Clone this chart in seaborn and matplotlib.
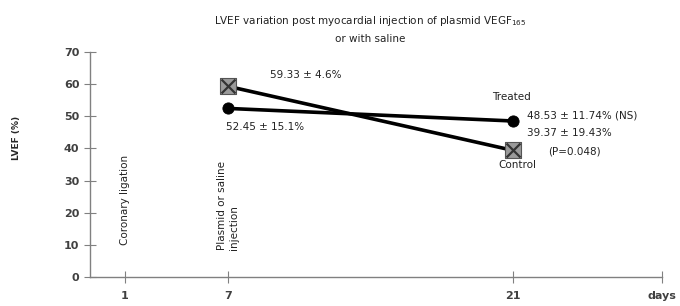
import matplotlib
matplotlib.use('Agg')
import matplotlib.pyplot as plt
import numpy as np
import pandas as pd
import seaborn as sns

days = [7, 21]
control = [59.33, 39.37]
treated = [52.45, 48.53]
xticks = [1, 7, 21]
yticks = [0, 10, 20, 30, 40, 50, 60, 70]

sns.set_style('white')
plt.rcParams['font.family'] = ['DejaVu Sans']

df = pd.DataFrame({'day': days * 2,
                   'lvef': control + treated,
                   'group': ['Control'] * 2 + ['Treated'] * 2})

fig = plt.figure(figsize=(6.8, 3.06), dpi=100)
ax = fig.add_axes([0.132, 0.095, 0.842, 0.735])

# uneven day axis as in the original (piecewise linear scale)
kd = [-20, 1, 7, 21, 60]
kp = [125 - 21 * 17.17, 125, 228, 513, 513 + 39 * 20.36]
ax.set_xscale('function', functions=(lambda x: np.interp(x, kd, kp),
                                     lambda p: np.interp(p, kp, kd)))

sns.lineplot(data=df, x='day', y='lvef', units='group', estimator=None,
             color='black', linewidth=2.6, ax=ax, legend=False)
sub_c = df[df.group == 'Control']
sub_t = df[df.group == 'Treated']
sns.scatterplot(data=sub_c, x='day', y='lvef', marker='s', s=140, color='#9a9a9a',
                edgecolor='#555555', linewidth=0.8, ax=ax, zorder=3, legend=False)
sns.scatterplot(data=sub_c, x='day', y='lvef', marker='x', s=100, color='#333333',
                linewidth=1.6, ax=ax, zorder=4, legend=False)
sns.scatterplot(data=sub_t, x='day', y='lvef', marker='o', s=65, color='black',
                edgecolor='black', ax=ax, zorder=3, legend=False)

xmax = 28.32
ax.set_xlim(-1.04, xmax)
ax.set_ylim(0, 70)
ax.set_xticks(xticks + [xmax])
ax.set_xticklabels([str(t) for t in xticks] + ['days'])
ax.set_yticks(yticks)
ax.tick_params(axis='both', direction='inout', length=8, width=0.8, color='#808080',
               labelsize=8, labelcolor='#404040', left=True, bottom=True)
ax.tick_params(axis='x', pad=6)
for lbl in ax.get_xticklabels() + ax.get_yticklabels():
    lbl.set_fontweight('bold')
for s in ['top', 'right']:
    ax.spines[s].set_visible(False)
for s in ['left', 'bottom']:
    ax.spines[s].set_color('#808080')
    ax.spines[s].set_linewidth(1.0)
ax.set_xlabel('')
ax.set_ylabel('LVEF (%)', fontsize=6.5, fontweight='bold')
ax.yaxis.set_label_coords(-0.12, 0.62)

fs = 7.5
tc = '#222222'
ax.text(1, 10, 'Coronary ligation', rotation=90, ha='center', va='bottom', fontsize=fs, color=tc)
ax.text(7, 8.4, 'Plasmid or saline\ninjection', rotation=90, ha='center', va='bottom',
        multialignment='left', fontsize=fs, color=tc)
ax.text(10.8, 62.8, '59.33 ± 4.6%', ha='center', va='center', fontsize=fs, color=tc)
ax.text(6.9, 46.7, '52.45 ± 15.1%', ha='left', va='center', fontsize=fs, color=tc)
ax.text(20.9, 56, 'Treated', ha='center', va='center', fontsize=fs, color=tc)
ax.text(21.7, 50.1, '48.53 ± 11.74% (NS)', ha='left', va='center', fontsize=fs, color=tc)
ax.text(21.7, 44.8, '39.37 ± 19.43%', ha='left', va='center', fontsize=fs, color=tc)
ax.text(22.7, 38.9, '(P=0.048)', ha='left', va='center', fontsize=fs, color=tc)
ax.text(21.2, 34.8, 'Control', ha='center', va='center', fontsize=fs, color=tc)

fig.text(0.545, 0.905, 'LVEF variation post myocardial injection of plasmid VEGF$_{165}$\nor with saline',
         ha='center', va='center', fontsize=7.5, linespacing=1.7, color=tc)

fig.savefig('out.png', dpi=100)
